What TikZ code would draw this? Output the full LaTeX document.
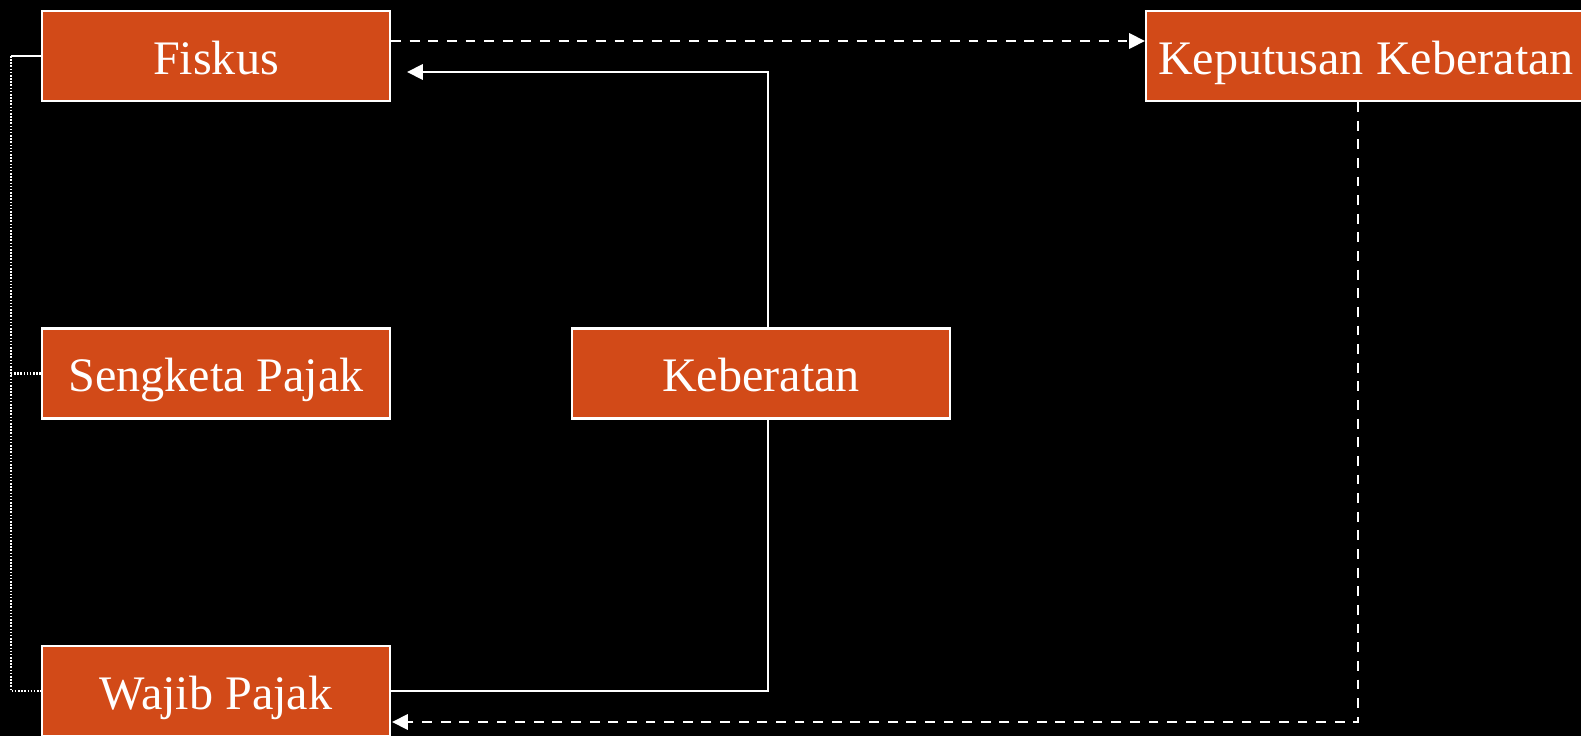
\documentclass[tikz,border=0pt]{standalone}
\usepackage{fontspec}
\setmainfont{Liberation Serif}
\usetikzlibrary{arrows.meta}
\definecolor{oranye}{RGB}{210,74,24}
\tikzset{
  kotak/.style={draw=white, line width=0.6pt, fill=oranye, text=white,
    minimum height=0.9cm, inner sep=0pt, text height=0.45cm, text depth=0.09cm,
    font=\fontsize{13.7}{16}\selectfont},
  garis/.style={draw=white, line width=0.55pt},
  putus/.style={garis, dash pattern=on 2.8pt off 2.5pt},
  titik/.style={draw=white, line width=0.6pt, dash pattern=on 0.45pt off 0.45pt},
  panah/.style={-{Triangle[length=4.5pt, width=4.4pt]}}
}
\begin{document}
\begin{tikzpicture}
			\fill[black] (0, 0) rectangle (15.81, -7.36);
			\useasboundingbox (0, 0) rectangle (15.81, -7.36);
			\node[kotak, minimum width=3.48cm] (fiskus) at (2.16, -0.56) {Fiskus};
			\node[kotak, minimum width=3.48cm] (sengketa) at (2.16, -3.735) {Sengketa Pajak};
			\node[kotak, minimum width=3.48cm] (wajib) at (2.16, -6.91) {Wajib Pajak};
			\node[kotak, minimum width=3.78cm] (keberatan) at (7.61, -3.735) {Keberatan};
			\node[kotak, minimum width=4.40cm] (keputusan) at (13.66, -0.56) {Keputusan Keberatan};
			% kurung kiri
			\draw[garis] (fiskus.west) -- ++(-0.30, 0) coordinate (kiri);
			\draw[titik] (kiri) |- (wajib.west);
			\draw[titik] (sengketa.west) -- (sengketa.west -| kiri);
			% alur
			\draw[putus, panah] ([yshift=0.15cm]fiskus.east) -- ([yshift=0.15cm]keputusan.west);
			\draw[garis, panah] ([xshift=0.07cm]keberatan.north) |- ([xshift=0.16cm, yshift=-0.16cm]fiskus.east);
			\draw[garis] ([xshift=0.07cm]keberatan.south) |- (wajib.east);
			\draw[putus, panah] ([xshift=-0.08cm]keputusan.south) |- ([xshift=0.01cm, yshift=-0.31cm]wajib.east);
\end{tikzpicture}
\end{document}
